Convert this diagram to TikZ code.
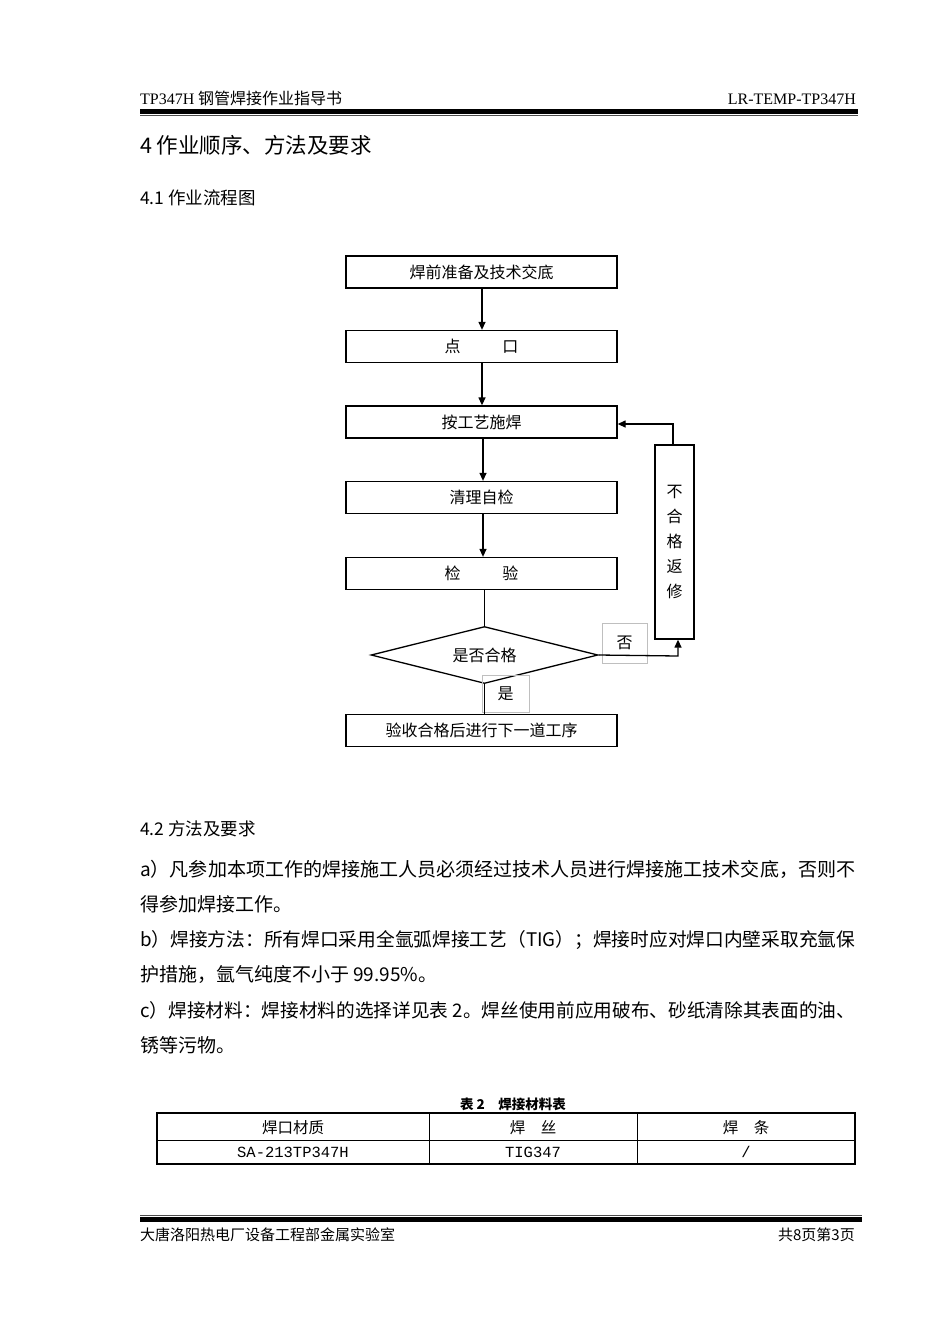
\documentclass[tikz,border=0pt]{standalone}
\usepackage{graphicx}
\usepackage{fontspec}
\setmainfont{Noto Sans CJK SC}
\newfontfamily\tnr{Liberation Serif}
\newfontfamily\mono{Liberation Mono}
\usetikzlibrary{arrows.meta,shapes.geometric}
\tikzset{
  flowbox/.style={draw,line width=1.3pt,minimum width=271pt,minimum height=32pt,inner sep=0pt,font=\fontsize{16}{18}\selectfont},
  flowline/.style={line width=1.3pt},
  flowarrow/.style={line width=1.3pt,-{Triangle[length=8pt,width=7pt]}},
  lbl/.style={draw=black!25,line width=0.6pt,inner sep=0pt,font=\fontsize{16}{18}\selectfont},
  bodytext/.style={anchor=west,inner sep=0pt,font=\fontsize{19}{21}\selectfont},
  cell/.style={inner sep=0pt,font=\fontsize{15.5}{18}\selectfont}
}
\begin{document}
\begin{tikzpicture}[x=1pt,y=-1pt]
\useasboundingbox[fill=white] (0,0) rectangle (950,1344);
% header
\node[anchor=base west,inner sep=0pt] (hl) at (140,104) {\fontsize{16}{18}\selectfont{\tnr TP347H} 钢管焊接作业指导书};
\node[anchor=base east,inner sep=0pt] (hr) at (856,104) {\fontsize{16}{18}\selectfont\tnr LR-TEMP-TP347H};
\fill (140,109) rectangle (858,113.5);
\draw[line width=1pt,black!70] (140,115.5) -- (858,115.5);
% title
\node[anchor=west,inner sep=0pt] (title) at (140,145) {\fontsize{21.5}{24}\selectfont 4 作业顺序、方法及要求};
\node[anchor=west,inner sep=0pt] (s41) at (140,198) {\fontsize{17.5}{20}\selectfont 4.1 作业流程图};
% flowchart
\node[flowbox] (b1) at (481.5,272) {焊前准备及技术交底};
\node[flowbox] (b2) at (481.5,346.5) {点\hspace{2.6em}口};
\node[flowbox] (b3) at (481.5,422) {按工艺施焊};
\node[flowbox] (b4) at (481.5,497.5) {清理自检};
\node[flowbox] (b5) at (481.5,573.5) {检\hspace{2.6em}验};
\node[draw,diamond,aspect=4,line width=1.3pt,minimum width=227pt,minimum height=57pt,inner sep=0pt,font=\fontsize{16}{18}\selectfont] (d) at (484.5,655) {是否合格};
\node[flowbox] (b6) at (481.5,730.5) {验收合格后进行下一道工序};
\node[draw,line width=1.3pt,minimum width=39pt,minimum height=194pt,inner sep=0pt,font=\fontsize{16}{18}\selectfont,align=center] (rx) at (674.5,542) {不\\[7pt]合\\[7pt]格\\[7pt]返\\[7pt]修};
\node[lbl,minimum width=45pt,minimum height=40pt] (no) at (624.5,643) {否};
\node[lbl,minimum width=47pt,minimum height=37pt] (yes) at (505.5,693.5) {是};
\draw[flowarrow] (b1.south -| 482,0) -- (b2.north -| 482,0);
\draw[flowarrow] (b2.south -| 482,0) -- (b3.north -| 482,0);
\draw[flowarrow] (b3.south -| 483,0) -- (b4.north -| 483,0);
\draw[flowarrow] (b4.south -| 483,0) -- (b5.north -| 483,0);
\draw[flowline] (b5.south -| 484.5,0) -- (d.north);
\draw[flowline] (d.south) -- (b6.north -| 484.5,0);
\coordinate (c1) at (678,656);
\draw[flowarrow] (d.east) -- (c1) -- (rx.south -| c1);
\coordinate (c2) at (673,424);
\draw[flowarrow] (rx.north -| c2) -- (c2) -- (b3.east |- c2);
% section 4.2
\node[anchor=west,inner sep=0pt] (s42) at (140,829) {\fontsize{17.5}{20}\selectfont 4.2 方法及要求};
\node[bodytext] (a1) at (140,869) {\resizebox{715pt}{!}{a）凡参加本项工作的焊接施工人员必须经过技术人员进行焊接施工技术交底，否则不}};
\node[bodytext] (a2) at (140,904) {得参加焊接工作。};
\node[bodytext] (p1) at (140,940) {\resizebox{715pt}{!}{b）焊接方法：所有焊口采用全氩弧焊接工艺（TIG）；焊接时应对焊口内壁采取充氩保}};
\node[bodytext] (p2) at (140,974) {护措施，氩气纯度不小于 99.95\%。};
\node[bodytext] (q1) at (140,1010) {\resizebox{715pt}{!}{c）焊接材料：焊接材料的选择详见表 2。焊丝使用前应用破布、砂纸清除其表面的油、}};
\node[bodytext] (q2) at (140,1045) {锈等污物。};
% table
\node[inner sep=0pt,font=\fontsize{13.5}{16}\selectfont\bfseries] (cap) at (513,1104) {表 2\quad 焊接材料表};
\draw[line width=1.2pt] (157,1113) rectangle (855,1164);
\draw[line width=1pt] (157,1140) -- (855,1140);
\draw[line width=1pt] (429,1113) -- (429,1164);
\draw[line width=1pt] (637,1113) -- (637,1164);
\node[cell] (t11) at (293,1128) {焊口材质};
\node[cell] (t12) at (533,1128) {焊\quad 丝};
\node[cell] (t13) at (746,1128) {焊\quad 条};
\node[cell] (t21) at (293,1152) {\mono SA-213TP347H};
\node[cell] (t22) at (533,1152) {\mono TIG347};
\node[cell] (t23) at (746,1152) {\mono /};
% footer
\draw[line width=1pt,black!70] (140,1215) -- (862,1215);
\fill (140,1217) rectangle (862,1222);
\node[anchor=west,inner sep=0pt] (fl) at (140,1235) {\fontsize{15}{18}\selectfont 大唐洛阳热电厂设备工程部金属实验室};
\node[anchor=east,inner sep=0pt] (fr) at (855,1235) {\fontsize{15}{18}\selectfont 共8页第3页};
\end{tikzpicture}
\end{document}
